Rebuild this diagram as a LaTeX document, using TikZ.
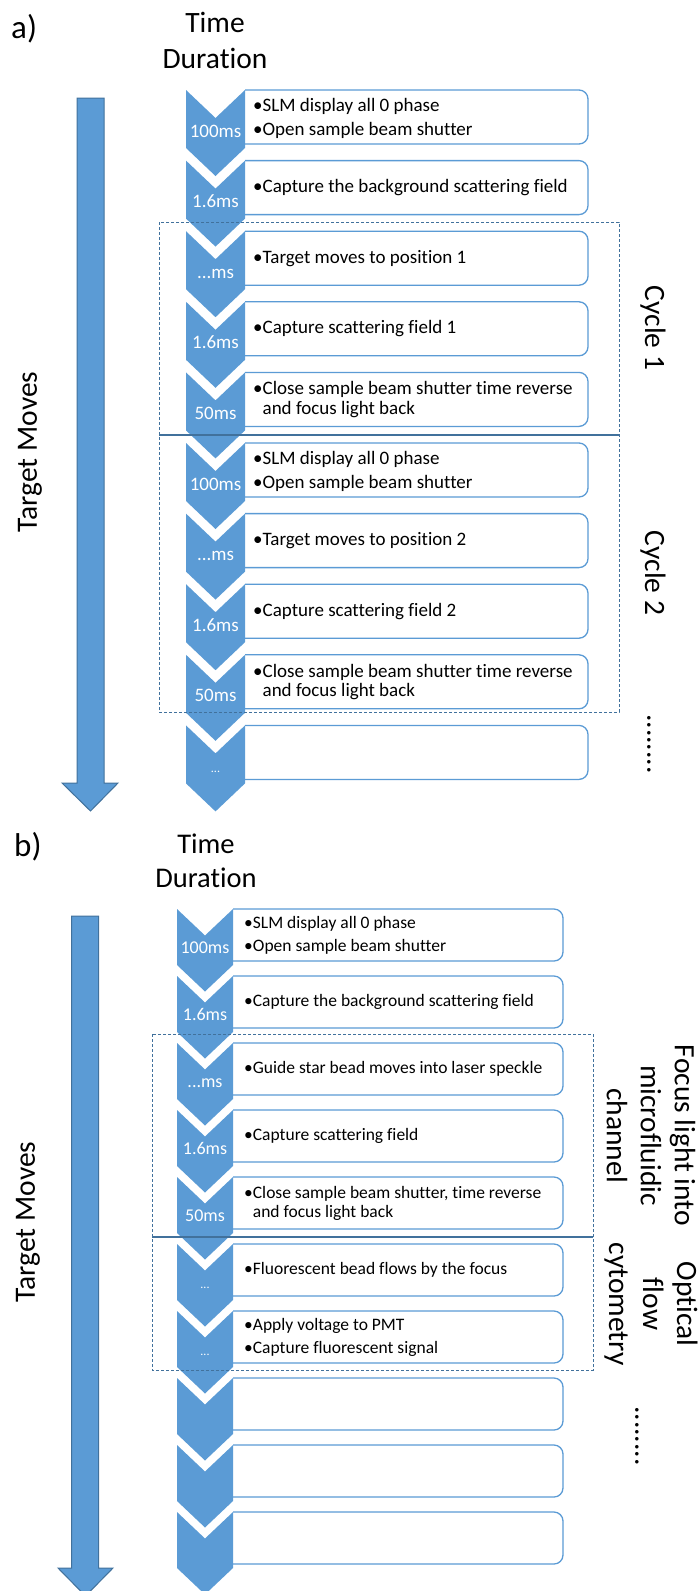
\documentclass[tikz,border=0pt]{standalone}
\usepackage{fontspec}
\setmainfont{Carlito}[Ligatures={NoCommon}]
\definecolor{chev}{HTML}{5B9BD5}
\definecolor{arrline}{HTML}{41719C}
\definecolor{boxln}{HTML}{5B9BD5}
\definecolor{dashc}{HTML}{41719C}
\tikzset{
 chevfill/.style={fill=chev},
 boxst/.style={fill=white, draw=boxln, line width=1.3pt, rounded corners=9pt},
 bigarrow/.style={fill=chev, draw=arrline, line width=1pt},
 grp/.style={draw=dashc, line width=1pt, dash pattern=on 3pt off 2pt},
 sepline/.style={draw=dashc, line width=1.2pt},
 lblA/.style={text=white, font=\fontsize{19}{19}\selectfont, anchor=base, inner sep=0pt},
 lblB/.style={text=white, font=\fontsize{18}{18}\selectfont, anchor=base, inner sep=0pt},
 dotsl/.style={text=white, font=\fontsize{12}{12}\selectfont, anchor=base, inner sep=0pt},
 txtA/.style={font=\fontsize{19}{19.5}\selectfont, anchor=west, align=left, inner sep=0pt},
 txtB/.style={font=\fontsize{17.5}{19}\selectfont, anchor=west, align=left, inner sep=0pt},
 big/.style={font=\fontsize{29.5}{34}\selectfont, inner sep=0pt},
 bigB/.style={font=\fontsize{28.5}{34}\selectfont, inner sep=0pt},
 panel/.style={font=\fontsize{33}{33}\selectfont, inner sep=0pt, anchor=base west},
}
\newcommand{\mychev}[5]{%
 \fill[chevfill] (#1,#3) -- ({(#1+#2)/2},{#3+#5}) -- (#2,#3) -- (#2,{#4+4}) -- ({(#1+#2)/2},{#4+4+#5}) -- (#1,{#4+4}) -- cycle;}
\newcommand{\mybox}[4]{\path[boxst] (#1,#3) -- (#2,#3) -- (#2,#4) -- (#1,#4);}
\newcommand{\bl}{\hphantom{•}}
\begin{document}
\begin{tikzpicture}[x=1pt,y=-1pt]
\useasboundingbox (0,0) rectangle (697,1591);
% ---------------- part a ----------------
\node[panel] (la) at (11,38) {a)};
\node[big, anchor=base] (timeA) at (215,32) {Time};
\node[big, anchor=base] (durA) at (215,68) {Duration};
\filldraw[bigarrow] (77,98) -- (104,98) -- (104,783) -- (118,783) -- (90.5,811) -- (62,783) -- (77,783) -- cycle;
\node[big, rotate=90] (tmA) at (30,452) {Target Moves};
\foreach \i in {0,...,9} {
 \pgfmathsetmacro\T{90+70.6*\i}
 \pgfmathsetmacro\B{\T+54}
 \mybox{245}{588}{\T}{\B}
 \mychev{186}{245}{\T}{\B}{28}
}
\node[lblA] (a1l) at (215.5,137) {100ms};
\node[lblA] (a2l) at (215.5,207.6) {1.6ms};
\node[lblA] (a3l) at (215.5,278.2) {...ms};
\node[lblA] (a4l) at (215.5,348.8) {1.6ms};
\node[lblA] (a5l) at (215.5,419.4) {50ms};
\node[lblA] (a6l) at (215.5,490) {100ms};
\node[lblA] (a7l) at (215.5,560.6) {...ms};
\node[lblA] (a8l) at (215.5,631.2) {1.6ms};
\node[lblA] (a9l) at (215.5,701.8) {50ms};
\node[dotsl] (a10l) at (215.5,772.4) {...};
\node[txtA] (a1t) at (253,118) {•SLM display all 0 phase\\[4.5pt]•Open sample beam shutter};
\node[txtA] (a2t) at (253,187.6) {•Capture the background scattering field};
\node[txtA] (a3t) at (253,258.2) {•Target moves to position 1};
\node[txtA] (a4t) at (253,328.8) {•Capture scattering field 1};
\node[txtA] (a5t) at (253,399.4) {•Close sample beam shutter time reverse\\\bl and focus light back};
\node[txtA] (a6t) at (253,471) {•SLM display all 0 phase\\[4.5pt]•Open sample beam shutter};
\node[txtA] (a7t) at (253,540.6) {•Target moves to position 2};
\node[txtA] (a8t) at (253,611.2) {•Capture scattering field 2};
\node[txtA] (a9t) at (253,681.8) {•Close sample beam shutter time reverse\\\bl and focus light back};
\path[grp] (159,222) rectangle (619,712);
\path[sepline] (159,435) -- (619,435);
\node[big, rotate=-90] (cyc1) at (653,328) {Cycle 1};
\node[big, rotate=-90] (cyc2) at (653,573) {Cycle 2};
\node[big, rotate=-90] (dotsA) at (649,744) {........};
% ---------------- part b ----------------
\node[panel] (lb) at (14,856) {b)};
\node[bigB, anchor=base] (timeB) at (206,853) {Time};
\node[bigB, anchor=base] (durB) at (206,887) {Duration};
\filldraw[bigarrow] (71.5,916) -- (98.5,916) -- (98.5,1568) -- (113,1568) -- (85.5,1596) -- (58,1568) -- (71.5,1568) -- cycle;
\node[big, rotate=90] (tmB) at (28,1222) {Target Moves};
\foreach \i in {0,...,9} {
 \pgfmathsetmacro\T{909+67*\i}
 \pgfmathsetmacro\B{\T+52}
 \mybox{233}{563}{\T}{\B}
 \mychev{177}{233}{\T}{\B}{26.5}
}
\node[lblB] (b1l) at (205,953.5) {100ms};
\node[lblB] (b2l) at (205,1020.5) {1.6ms};
\node[lblB] (b3l) at (205,1087.5) {...ms};
\node[lblB] (b4l) at (205,1154.5) {1.6ms};
\node[lblB] (b5l) at (205,1221.5) {50ms};
\node[dotsl] (b6l) at (205,1288.5) {...};
\node[dotsl] (b7l) at (205,1355.5) {...};
\node[txtB] (b1t) at (244,935) {•SLM display all 0 phase\\[4pt]•Open sample beam shutter};
\node[txtB] (b2t) at (244,1002) {•Capture the background scattering field};
\node[txtB] (b3t) at (244,1069) {•Guide star bead moves into laser speckle};
\node[txtB] (b4t) at (244,1136) {•Capture scattering field};
\node[txtB] (b5t) at (244,1203) {•Close sample beam shutter, time reverse\\\bl and focus light back};
\node[txtB] (b6t) at (244,1270) {•Fluorescent bead flows by the focus};
\node[txtB] (b7t) at (244,1337) {•Apply voltage to PMT\\[4pt]•Capture fluorescent signal};
\path[grp] (152,1034) rectangle (593,1370);
\path[sepline] (152,1237) -- (593,1237);
\node[big, rotate=-90, align=center] (focus) at (651,1135.5) {Focus light into\\microfluidic\\channel};
\node[big, rotate=-90, align=center] (optic) at (651,1304) {Optical\\flow\\cytometry};
\node[big, rotate=-90] (dotsB) at (637,1436) {........};
\end{tikzpicture}
\end{document}
